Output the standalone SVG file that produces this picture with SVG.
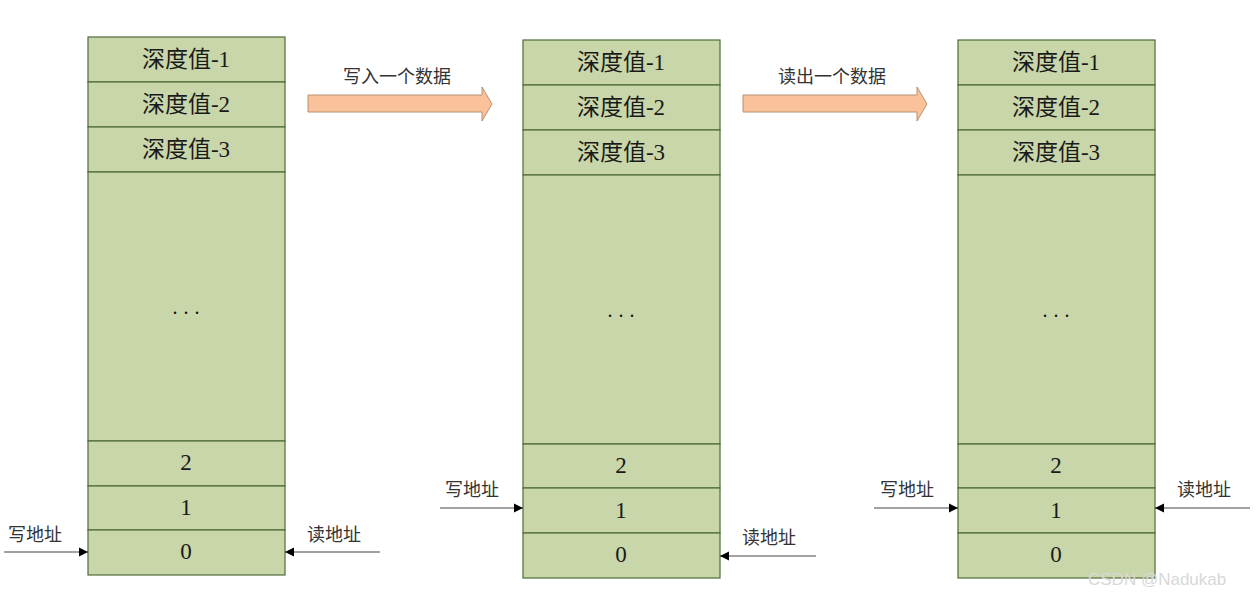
<svg xmlns="http://www.w3.org/2000/svg" width="1257" height="596" viewBox="0 0 1257 596">
<defs>
<style>
.cell{fill:#c9d6a9;stroke:#4f6b3a;stroke-width:1.2}
.ct{font-family:"Liberation Serif","Noto Sans CJK SC",serif;font-size:23px;fill:#1a1a1a;text-anchor:middle}
.lb{font-family:"Liberation Sans","Noto Sans CJK SC",sans-serif;font-size:18px;fill:#333;}
.ptr{stroke:#444;stroke-width:1.2;fill:none}
.big{fill:#f9c29b;stroke:#b89070;stroke-width:1}
.dots{font-family:"Liberation Serif",serif;font-size:20px;fill:#111;text-anchor:middle;letter-spacing:6px}
</style>
<marker id="ah" viewBox="0 0 10 10" refX="10" refY="5" markerWidth="9" markerHeight="16" markerUnits="userSpaceOnUse" orient="auto">
<path d="M0,0 L10,5 L0,10 Z" fill="#000"/>
</marker>
</defs>

<g id="fifo1">
<rect class="cell" x="88" y="37" width="197" height="45"/>
<rect class="cell" x="88" y="82" width="197" height="45"/>
<rect class="cell" x="88" y="127" width="197" height="45"/>
<rect class="cell" x="88" y="172" width="197" height="269"/>
<rect class="cell" x="88" y="441" width="197" height="45"/>
<rect class="cell" x="88" y="486" width="197" height="44"/>
<rect class="cell" x="88" y="530" width="197" height="45"/>
<text class="ct" x="186" y="67">深度值-1</text>
<text class="ct" x="186" y="112">深度值-2</text>
<text class="ct" x="186" y="157">深度值-3</text>
<text class="dots" x="189" y="314">...</text>
<text class="ct" x="186" y="470">2</text>
<text class="ct" x="186" y="515">1</text>
<text class="ct" x="186" y="559">0</text>
</g>

<g id="fifo2">
<rect class="cell" x="523" y="40" width="197" height="45"/>
<rect class="cell" x="523" y="85" width="197" height="45"/>
<rect class="cell" x="523" y="130" width="197" height="45"/>
<rect class="cell" x="523" y="175" width="197" height="269"/>
<rect class="cell" x="523" y="444" width="197" height="44"/>
<rect class="cell" x="523" y="488" width="197" height="45"/>
<rect class="cell" x="523" y="533" width="197" height="45"/>
<text class="ct" x="621" y="70">深度值-1</text>
<text class="ct" x="621" y="115">深度值-2</text>
<text class="ct" x="621" y="160">深度值-3</text>
<text class="dots" x="624" y="317">...</text>
<text class="ct" x="621" y="473">2</text>
<text class="ct" x="621" y="518">1</text>
<text class="ct" x="621" y="562">0</text>
</g>

<g id="fifo3">
<rect class="cell" x="958" y="40" width="197" height="45"/>
<rect class="cell" x="958" y="85" width="197" height="45"/>
<rect class="cell" x="958" y="130" width="197" height="45"/>
<rect class="cell" x="958" y="175" width="197" height="269"/>
<rect class="cell" x="958" y="444" width="197" height="44"/>
<rect class="cell" x="958" y="488" width="197" height="45"/>
<rect class="cell" x="958" y="533" width="197" height="45"/>
<text class="ct" x="1056" y="70">深度值-1</text>
<text class="ct" x="1056" y="115">深度值-2</text>
<text class="ct" x="1056" y="160">深度值-3</text>
<text class="dots" x="1059" y="317">...</text>
<text class="ct" x="1056" y="473">2</text>
<text class="ct" x="1056" y="518">1</text>
<text class="ct" x="1056" y="562">0</text>
</g>

<g id="step-write">
<path class="big" d="M308,95 L482,95 L482,87 L492,104 L482,121 L482,112 L308,112 Z"/>
<text class="lb" x="397" y="83" text-anchor="middle">写入一个数据</text>
</g>

<g id="step-read">
<path class="big" d="M743,95 L917,95 L917,87 L927,104 L917,121 L917,112 L743,112 Z"/>
<text class="lb" x="832" y="83" text-anchor="middle">读出一个数据</text>
</g>

<g id="connectors">
<line class="ptr" x1="4" y1="552" x2="88" y2="552" marker-end="url(#ah)"/>
<line class="ptr" x1="380" y1="552" x2="285" y2="552" marker-end="url(#ah)"/>
<line class="ptr" x1="440" y1="508" x2="523" y2="508" marker-end="url(#ah)"/>
<line class="ptr" x1="816" y1="556" x2="720" y2="556" marker-end="url(#ah)"/>
<line class="ptr" x1="874" y1="508" x2="958" y2="508" marker-end="url(#ah)"/>
<line class="ptr" x1="1250" y1="508" x2="1155" y2="508" marker-end="url(#ah)"/>
</g>

<g id="labels">
<text class="lb" x="8" y="541">写地址</text>
<text class="lb" x="307" y="541">读地址</text>
<text class="lb" x="445" y="496">写地址</text>
<text class="lb" x="742" y="544">读地址</text>
<text class="lb" x="880" y="496">写地址</text>
<text class="lb" x="1177" y="496">读地址</text>
</g>

<text x="1088" y="585" font-family="Liberation Sans, sans-serif" font-size="17" fill="#d8d8d8">CSDN @Nadukab</text>
</svg>
